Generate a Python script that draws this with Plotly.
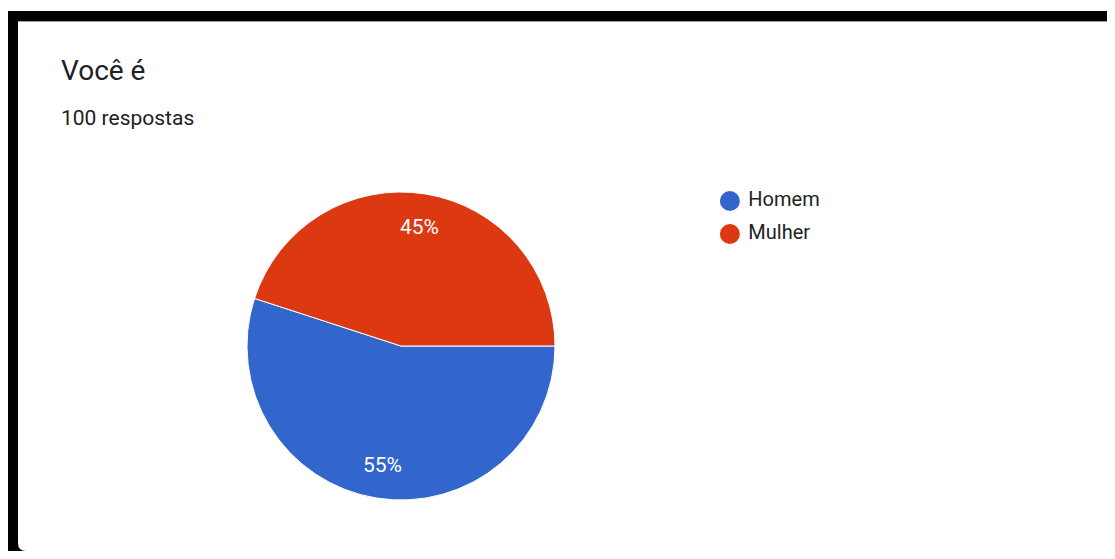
import math
import plotly.graph_objects as go

categories = ["Homem", "Mulher"]
values = [55, 45]
colors = ["#3366CC", "#DC3912"]
title_text = "Você é"
subtitle_text = "100 respostas"

# the page body adds an 8px margin, so the figure is drawn from (8, 8)
OFF = 8
W, H = 1099, 543

def px(x):
    return (x - OFF) / W

def py(y):
    return 1 - (y - OFF) / H

# pie geometry (window pixels)
CX, CY, R = 401, 346, 154
LABEL_R = 0.78

fig = go.Figure()

fig.add_trace(go.Pie(
    labels=categories,
    values=values,
    sort=False,
    direction="clockwise",
    rotation=90,
    marker=dict(colors=colors, line=dict(color="white", width=1)),
    textinfo="none",
    domain=dict(x=[px(CX - R), px(CX + R)], y=[py(CY + R), py(CY - R)]),
    showlegend=False,
    hoverinfo="label+percent",
))

# percentage labels placed at each slice's mid-angle
annotations = []
total = sum(values)
start = 0.0  # degrees clockwise from 3 o'clock
for v in values:
    frac = v / total
    mid = math.radians(start + frac * 360 / 2)
    lx = CX + LABEL_R * R * math.cos(mid)
    ly = CY + LABEL_R * R * math.sin(mid)
    annotations.append(dict(
        text=f"{round(frac * 100)}%", x=px(lx), y=py(ly), xref="paper", yref="paper",
        xanchor="center", yanchor="middle", showarrow=False,
        font=dict(family="Roboto", size=21, color="white")))
    start += frac * 360

# legend drawn as a small scatter of the categories
fig.add_trace(go.Scatter(
    x=[0] * len(categories),
    y=categories,
    mode="markers+text",
    marker=dict(color=colors, size=20, symbol="circle"),
    text=[" " + c for c in categories],
    textposition="middle right",
    textfont=dict(family="Roboto", size=20, color="#222222"),
    cliponaxis=False,
    showlegend=False,
    hoverinfo="skip",
))

annotations += [
    dict(text=title_text, x=px(59), y=py(70), xref="paper", yref="paper",
         xanchor="left", yanchor="middle", showarrow=False,
         font=dict(family="Roboto", size=28, color="#202124")),
    dict(text=subtitle_text, x=px(59), y=py(118), xref="paper", yref="paper",
         xanchor="left", yanchor="middle", showarrow=False,
         font=dict(family="Roboto", size=21, color="#202124")),
]

fig.update_layout(
    width=W, height=H,
    margin=dict(l=0, r=0, t=0, b=0),
    paper_bgcolor="white",
    plot_bgcolor="rgba(0,0,0,0)",
    xaxis=dict(domain=[px(669), 1.0], range=[-62, 384], visible=False, fixedrange=True),
    yaxis=dict(domain=[py(250.5), py(184.5)], type="category", range=[1.5, -0.5],
               visible=False, fixedrange=True),
    shapes=[
        # top black band
        dict(type="rect", xref="paper", yref="paper", x0=0, x1=1.0, y0=py(21), y1=py(11),
             fillcolor="black", line=dict(width=0), layer="below"),
        # left black band
        dict(type="rect", xref="paper", yref="paper", x0=0, x1=px(18), y0=0, y1=py(11),
             fillcolor="black", line=dict(width=0), layer="below"),
        # black behind the card's rounded bottom-left corner
        dict(type="rect", xref="paper", yref="paper", x0=px(17), x1=px(26), y0=0, y1=py(543),
             fillcolor="black", line=dict(width=0), layer="below"),
        # white card with rounded bottom-left corner
        dict(type="path", xref="paper", yref="paper",
             path=(f"M {px(18)} {py(21)} L 1 {py(21)} L 1 0 L {px(26)} 0 "
                   f"Q {px(18)} 0 {px(18)} {py(543)} Z"),
             fillcolor="white", line=dict(width=0), layer="below"),
        dict(type="line", xref="paper", yref="paper", x0=px(18), x1=1.0, y0=py(21.5), y1=py(21.5),
             line=dict(color="#9e9e9e", width=1), layer="below"),
    ],
    annotations=annotations,
)

fig.write_html("out.html")
